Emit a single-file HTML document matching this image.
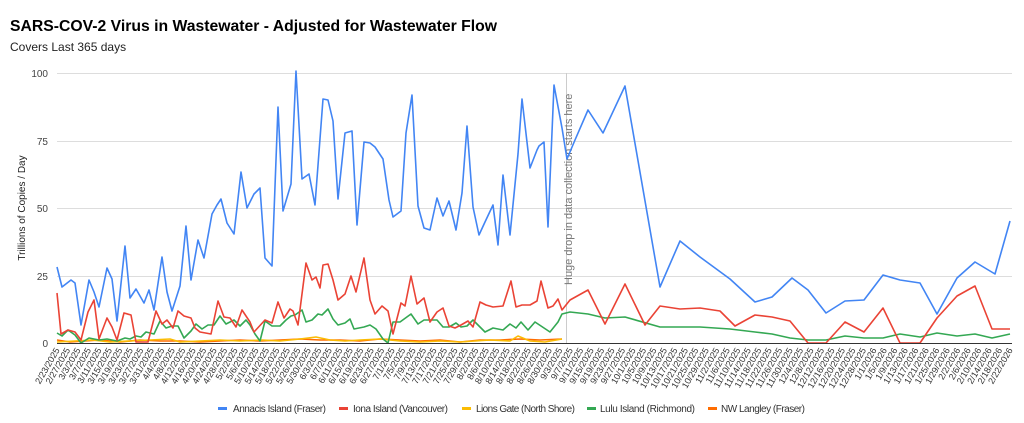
<!DOCTYPE html>
<html><head><meta charset="utf-8"><style>
body{margin:0;background:#fff;font-family:"Liberation Sans",Arial,sans-serif;}
svg{display:block}
</style></head><body>
<svg id="c" width="1024" height="423" xmlns="http://www.w3.org/2000/svg" font-family="Liberation Sans, Arial, sans-serif">
<rect width="1024" height="423" fill="#fff"/>
<text x="10" y="31" font-size="16" font-weight="bold" fill="#000" textLength="487" lengthAdjust="spacingAndGlyphs">SARS-COV-2 Virus in Wastewater - Adjusted for Wastewater Flow</text>
<text x="10" y="51" font-size="12" fill="#222">Covers Last 365 days</text>
<g stroke="#ddd" stroke-width="1">
<line x1="57" x2="1012" y1="73.5" y2="73.5"/><line x1="57" x2="1012" y1="141.5" y2="141.5"/>
<line x1="57" x2="1012" y1="208.5" y2="208.5"/><line x1="57" x2="1012" y1="276.5" y2="276.5"/>
</g>
<line x1="566.5" x2="566.5" y1="73" y2="343" stroke="#ccc"/>
<text transform="translate(572,285) rotate(-90)" font-size="11" fill="#777">Huge drop in data collection starts here</text>
<g font-size="10" fill="#444" text-anchor="end">
<text x="48" y="77">100</text><text x="48" y="145">75</text><text x="48" y="212">50</text><text x="48" y="280">25</text><text x="48" y="347">0</text>
</g>
<text transform="translate(25,208) rotate(-90)" font-size="10" fill="#222" text-anchor="middle">Trillions of Copies / Day</text>
<g fill="none" stroke-width="1.6" stroke-linejoin="round">
<polyline stroke="#ff6d01" points="57,340 70,342 85,341 100,340 120,342 140,340 160,341 180,341 200,342 220,341 240,340 260,341 280,340 300,339 320,340 340,340 360,341 380,339 400,340 420,341 440,340 460,342 480,340 500,340 520,339 540,340 562,339"/>
<polyline stroke="#fbbc04" points="57,342 75,341 92,340 110,342 130,341 150,340 170,339 180,342 200,341 220,340 240,341 262,340 280,341 300,339 316,337 330,340 345,341 360,340 380,339 400,341 420,342 440,341 460,342 475,341 490,340 510,341 518,336 530,341 545,342 562,339"/>
<polyline stroke="#34a853" points="57,333 62,336 68,330 75,335 81,343 89,338 99,340 107,339 117,341 125,338 130,339 136,336 141,337 146,332 154,334 160,321 166,328 172,326 178,326 184,338 191,331 196,324 202,329 208,325 214,325 220,316 226,324 234,320 240,326 246,320 250,325 255,334 260,341 265,321 272,326 280,326 286,320 291,316 295,315 302,310 306,322 312,320 318,314 322,315 328,309 333,319 338,325 345,323 350,319 354,329 364,327 370,325 376,329 383,339 388,343 393,322 400,322 411,314 418,324 424,320 431,320 437,320 443,327 449,327 456,323 461,327 467,326 473,320 480,327 485,332 493,328 503,330 510,324 516,328 521,322 528,330 535,322 547,330 550,332 558,322 562,314 570,312 588,314 605,318 625,317 660,327 680,327 700,327 730,329 755,332 772,334 790,338 808,340 826,340 845,336 864,338 883,338 900,334 920,337 937,333 957,336 975,334 992,338 1010,334"/>
<polyline stroke="#ea4335" points="57,293 61,334 68,330 75,332 81,340 88,312 94,300 99,339 107,318 112,327 117,340 124,313 131,315 136,342 148,342 156,311 162,324 167,320 173,328 178,311 184,316 191,318 195,328 200,332 211,334 218,301 224,317 230,318 236,327 242,310 250,322 254,332 265,320 272,323 278,302 284,318 290,309 293,311 298,325 306,263 312,280 316,277 320,288 323,265 328,264 333,280 338,300 345,294 351,276 356,292 364,258 370,300 375,314 382,306 388,311 393,334 401,303 405,306 411,276 417,304 424,298 430,322 437,312 443,308 449,326 455,328 461,325 468,321 473,327 480,302 486,305 493,307 503,306 511,281 516,307 522,305 530,305 537,301 541,281 548,308 553,306 558,299 562,310 570,300 588,290 605,324 625,284 645,325 660,306 680,309 700,308 720,311 735,326 755,315 772,317 790,321 808,343 826,343 845,322 864,332 883,308 900,343 920,343 937,318 957,296 975,286 992,329 1010,329"/>
<polyline stroke="#4285f4" points="57,267 62,287 71,280 75,283 81,325 89,280 94,292 99,307 107,268 112,279 117,321 125,246 130,298 136,289 144,303 149,290 154,310 162,257 167,292 172,311 180,286 186,226 191,280 198,240 204,258 212,214 217,205 221,199 227,223 234,234 241,172 247,208 254,194 260,188 265,258 272,266 278,107 283,211 291,184 296,71 302,179 309,174 315,205 323,99 328,100 333,121 338,199 345,133 352,131 357,225 364,142 370,143 375,147 383,159 389,200 393,217 401,211 406,133 412,95 418,206 424,228 430,230 437,198 443,216 449,201 456,230 462,193 467,126 473,207 479,235 485,222 493,205 498,245 503,175 510,235 518,154 522,99 530,168 537,150 539,146 544,142 548,227 554,85 562,128 567,159 575,140 588,110 603,133 625,86 660,287 680,241 700,257 730,279 755,302 772,297 792,278 808,290 826,313 845,301 864,300 883,275 900,280 920,283 937,314 957,278 975,262 995,274 1010,221"/>
</g>
<line x1="57" x2="1012" y1="343.5" y2="343.5" stroke="#333"/>
<g id="xl" font-size="9" fill="#333" text-anchor="end"></g>
<g font-size="10" fill="#333" lengthAdjust="spacingAndGlyphs">
<rect x="218" y="407" width="9" height="3" fill="#4285f4"/><text x="233" y="412" textLength="93">Annacis Island (Fraser)</text>
<rect x="339" y="407" width="9" height="3" fill="#ea4335"/><text x="353" y="412" textLength="95">Iona Island (Vancouver)</text>
<rect x="462" y="407" width="9" height="3" fill="#fbbc04"/><text x="476" y="412" textLength="99">Lions Gate (North Shore)</text>
<rect x="587" y="407" width="9" height="3" fill="#34a853"/><text x="600" y="412" textLength="95">Lulu Island (Richmond)</text>
<rect x="708" y="407" width="9" height="3" fill="#ff6d01"/><text x="721" y="412" textLength="84">NW Langley (Fraser)</text>
</g>
</svg>
<script>
var g=document.getElementById('xl'),d=new Date(2025,1,23),s='';
for(var i=0;i<92;i++){var x=57+i*(953/91);
var t=(d.getMonth()+1)+'/'+d.getDate()+'/'+d.getFullYear();
s+='<text transform="translate('+(x+3).toFixed(1)+',350) rotate(-60)">'+t+'</text>';
d.setDate(d.getDate()+4);}
g.innerHTML=s;
</script>
</body></html>
